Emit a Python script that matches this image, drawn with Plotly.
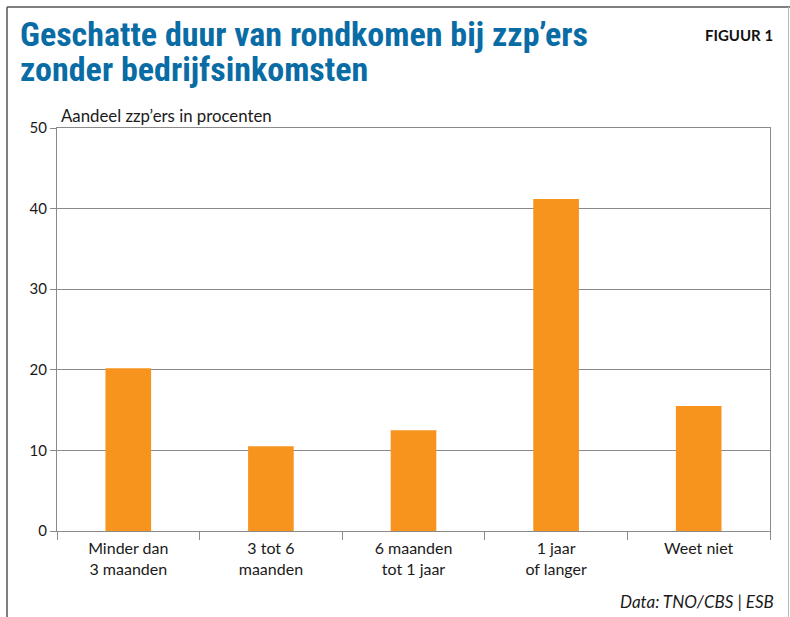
import plotly.graph_objects as go

categories = ["Minder dan<br>3 maanden", "3 tot 6<br>maanden", "6 maanden<br>tot 1 jaar", "1 jaar<br>of langer", "Weet niet"]
values = [20.2, 10.5, 12.5, 41.2, 15.5]
y_ticks = [0, 10, 20, 30, 40, 50]
title_lines = ["Geschatte duur van rondkomen bij zzp’ers", "zonder bedrijfsinkomsten"]

W, H = 790, 617
L, R, T, B = 57, 20, 128, 86
pw, ph = W - L - R, H - T - B

def px(x):
    return (x - L) / pw

def py(y):
    return (H - B - y) / ph

fig = go.Figure(go.Bar(x=categories, y=values, marker=dict(color="#f7941d", line=dict(width=0)), width=0.32))

grid = "#8a8a8a"
title_font = dict(family="Liberation Sans Narrow, Roboto Condensed, Roboto", size=34, color="#0a6ca5")
fig.update_layout(
    width=W, height=H,
    margin=dict(l=L, r=R, t=T, b=B),
    plot_bgcolor="white", paper_bgcolor="white",
    font=dict(family="Lato, Open Sans, sans-serif", size=16, color="#1a1a1a"),
    showlegend=False,
    xaxis=dict(showline=True, linecolor=grid, linewidth=1.2, ticks="outside", tickson="boundaries",
               ticklen=8, tickcolor=grid, tickwidth=1.2, showgrid=False, mirror=True,
               ticklabelstandoff=3, tickfont=dict(size=16, color="#1a1a1a")),
    yaxis=dict(range=[0, 50], tickvals=y_ticks, showline=True, linecolor=grid, linewidth=1.2, mirror=True,
               ticks="outside", ticklen=6, tickcolor=grid, tickwidth=1.2,
               showgrid=True, gridcolor=grid, gridwidth=1.2, zeroline=False,
               tickfont=dict(size=15, color="#1a1a1a")),
    shapes=[
        dict(type="line", xref="paper", yref="paper", x0=px(7), x1=px(7), y0=py(7), y1=py(620),
             line=dict(color="#555555", width=1.5)),
        dict(type="line", xref="paper", yref="paper", x0=px(7), x1=px(795), y0=py(7), y1=py(7),
             line=dict(color="#555555", width=1.5)),
        dict(type="line", xref="paper", yref="paper", x0=px(788.5), x1=px(788.5), y0=py(7), y1=py(620),
             line=dict(color="#bbbbbb", width=1)),
    ],
    annotations=[
        dict(text="<b>" + title_lines[0] + "</b>",
             xref="paper", yref="paper", x=px(18), y=py(56), xanchor="left", yanchor="bottom", align="left",
             showarrow=False, font=title_font),
        dict(text="<b>" + title_lines[1] + "</b>",
             xref="paper", yref="paper", x=px(18), y=py(91), xanchor="left", yanchor="bottom", align="left",
             showarrow=False, font=title_font),
        dict(text="<b>FIGUUR 1</b>", xref="paper", yref="paper", x=px(775), y=py(24), xanchor="right", yanchor="top",
             showarrow=False, font=dict(family="Lato", size=15, color="#111111")),
        dict(text="Aandeel zzp’ers in procenten", xref="paper", yref="paper", x=px(59), y=py(103),
             xanchor="left", yanchor="top", showarrow=False, font=dict(size=16.8)),
        dict(text="<i>Data: TNO/CBS | ESB</i>", xref="paper", yref="paper", x=px(776), y=py(589),
             xanchor="right", yanchor="top", showarrow=False, font=dict(size=17)),
    ],
)

fig.write_html("out.html", config={"displayModeBar": False},
               post_script="document.body.style.margin='0';document.body.style.overflow='hidden';")
